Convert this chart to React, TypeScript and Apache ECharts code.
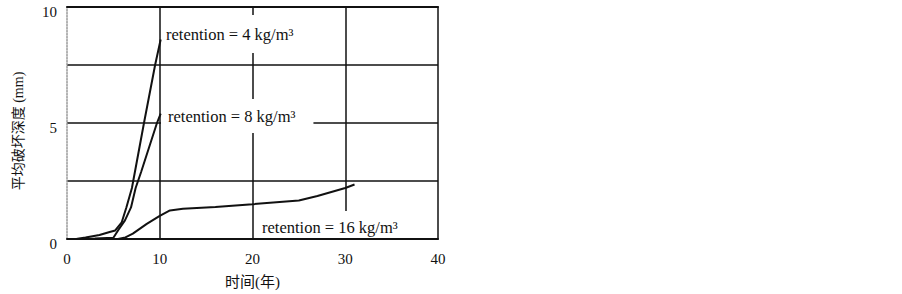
import React, { useEffect, useRef } from "react";
import * as echarts from "echarts";

const xTicks = [0, 10, 20, 30, 40];
const yTickLabels = [0, 5, 10];

const r4X = [1.0, 2.0, 3.5, 4.6, 5.2, 5.9, 6.4, 7.0, 8.3, 9.5, 10.1];
const r4Y = [0, 0.06, 0.17, 0.3, 0.37, 0.72, 1.36, 2.2, 5.0, 7.5, 8.6];

const r8X = [1.0, 3.0, 5.0, 5.5, 6.25, 6.9, 7.4, 8.0, 9.7, 10.1];
const r8Y = [0, 0.02, 0.05, 0.37, 0.8, 1.36, 2.2, 2.9, 5.0, 5.4];

const r16X = [1.0, 5.5, 6.3, 7.1, 8.6, 10.0, 11.1, 12.5, 16.0, 20.0, 25.0, 27.0, 30.0, 31.0];
const r16Y = [0, 0, 0.07, 0.23, 0.65, 1.0, 1.23, 1.3, 1.38, 1.5, 1.66, 1.85, 2.2, 2.35];

const labels = ["retention = 4 kg/m³", "retention = 8 kg/m³", "retention = 16 kg/m³"];
const xName = "时间(年)";
const yName = "平均破坏深度 (mm)";

const pairs = (xs: number[], ys: number[]) => xs.map((x, i) => [x, ys[i]]);

const FONT = "'Liberation Serif', 'Times New Roman', 'Noto Sans CJK SC', serif";

export default function App() {
  const ref = useRef<HTMLDivElement>(null);
  useEffect(() => {
    if (!ref.current) return;
    const chart = echarts.init(ref.current, null, { renderer: "svg" });
    const lineStyle = { color: "#111", width: 2 };
    const mkSeries = (name: string, xs: number[], ys: number[]) => ({
      name,
      type: "line",
      data: pairs(xs, ys),
      showSymbol: false,
      symbol: "none",
      lineStyle,
      z: 10,
      smooth: false,
    });
    const labelStyle = (text: string, padding: number[]) => ({
      text,
      font: `16.5px ${FONT}`,
      fill: "#111",
      backgroundColor: "#fff",
      padding,
      lineHeight: 18,
      verticalAlign: "middle",
    });
    chart.setOption({
      animation: false,
      backgroundColor: "#fff",
      grid: { left: 67, right: 464, top: 7, bottom: 52, show: false },
      xAxis: [
        {
          type: "value",
          min: 0,
          max: 40,
          interval: 10,
          axisLine: { show: false },
          axisTick: { show: false },
          axisLabel: {
            margin: 12,
            color: "#111",
            fontFamily: FONT,
            fontSize: 15,
            formatter: (v: number) => (xTicks.includes(v) ? String(v) : ""),
          },
          splitLine: {
            show: true,
            showMinLine: false,
            showMaxLine: false,
            lineStyle: { color: "#111", width: 1.5 },
          },
          name: xName,
          nameLocation: "middle",
          nameGap: 35,
          nameTextStyle: { color: "#111", fontFamily: FONT, fontSize: 15 },
        },
        {
          type: "value",
          position: "top",
          min: 0,
          max: 40,
          interval: 10,
          axisLine: { show: true, onZero: false, lineStyle: { color: "#111", width: 2 } },
          axisTick: { show: false },
          axisLabel: { show: false },
          splitLine: { show: false },
        },
        {
          type: "value",
          position: "bottom",
          min: 0,
          max: 40,
          interval: 10,
          z: 4,
          axisLine: { show: true, onZero: false, lineStyle: { color: "#111", width: 2 } },
          axisTick: { show: false },
          axisLabel: { show: false },
          splitLine: { show: false },
        },
      ],
      yAxis: [
        {
          type: "value",
          min: 0,
          max: 10,
          interval: 2.5,
          axisLine: { show: true, onZero: false, lineStyle: { color: "#999", width: 1.5, type: "dotted" } },
          axisTick: { show: false },
          axisLabel: {
            margin: 10,
            color: "#111",
            fontFamily: FONT,
            fontSize: 15,
            verticalAlign: "top",
            lineHeight: 10,
            formatter: (v: number) => (yTickLabels.includes(v) ? String(v) : ""),
          },
          splitLine: {
            show: true,
            showMinLine: false,
            showMaxLine: false,
            lineStyle: { color: "#111", width: 1.5 },
          },
        },
        {
          type: "value",
          position: "right",
          min: 0,
          max: 10,
          interval: 2.5,
          axisLine: { show: true, onZero: false, lineStyle: { color: "#111", width: 1.5 } },
          axisTick: { show: false },
          axisLabel: { show: false },
          splitLine: { show: false },
        },
      ],
      graphic: [
        {
          type: "text",
          x: 162,
          y: 34,
          z: 1,
          style: labelStyle(labels[0], [10, 10, 10, 4]),
        },
        {
          type: "text",
          x: 161,
          y: 116,
          z: 1,
          style: labelStyle(labels[1], [8, 18, 8, 7]),
        },
        {
          type: "text",
          x: 256,
          y: 227,
          z: 1,
          style: labelStyle(labels[2], [10, 6, 4, 6]),
        },
        {
          type: "text",
          x: 18,
          y: 131,
          rotation: Math.PI / 2,
          z: 5,
          style: {
            text: yName,
            font: `14px ${FONT}`,
            fill: "#111",
            align: "center",
            verticalAlign: "middle",
          },
        },
      ],
      series: [
        mkSeries("r4", r4X, r4Y),
        mkSeries("r8", r8X, r8Y),
        mkSeries("r16", r16X, r16Y),
      ],
    });
    return () => chart.dispose();
  }, []);
  return (
    <div
      ref={ref}
      style={{ position: "fixed", left: 0, top: 0, width: 902, height: 294, background: "#fff" }}
    />
  );
}
